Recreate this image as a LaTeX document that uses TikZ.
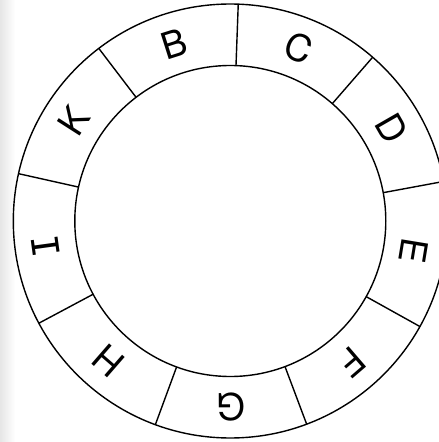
\documentclass[tikz,border=0pt]{standalone}
\usepackage{fontspec}
\setmainfont{TeX Gyre Heros}
\newfontfamily\barfont{DejaVu Sans Mono}

\begin{document}
\begin{tikzpicture}[x=1pt, y=1pt,
    ring/.style={black, line width=1.4pt},
    seglabel/.style={font=\fontsize{37}{37}\selectfont, inner sep=0pt}]

  % === FRAME ===
  \useasboundingbox (-230.3,-221) rectangle (208.7,221);
  \clip (-230.3,-221) rectangle (208.7,221);
  % faint grey strip on the left edge
  \shade[left color=black!10, right color=white] (-230.3,-221) rectangle (-215,221);

  % === RING ===
  \draw[ring] (0,0) circle (217);
  \draw[ring] (0,0) circle (155.5);

  % dividers between the nine segments
  \foreach \a in {87.9,49,10.5,-29.1,-69.4,-110.2,-151.9,167.4,127.3}
    \draw[ring] (\a:155.5) -- (\a:217);

  % === LABELS (top of each letter points outward) ===
  \foreach \a/\t in {107.6/B,68.5/C,29.8/D,-9.3/E,-49.3/F,-89.8/G,-131/H,147.4/K}
    \node[seglabel, rotate=\a-90] (lab\t) at (\a:186) {\t};
  % the I is drawn with bars
  \node[seglabel, rotate=-262.2] (labI) at (-172.2:186) {\barfont I};

\end{tikzpicture}
\end{document}
